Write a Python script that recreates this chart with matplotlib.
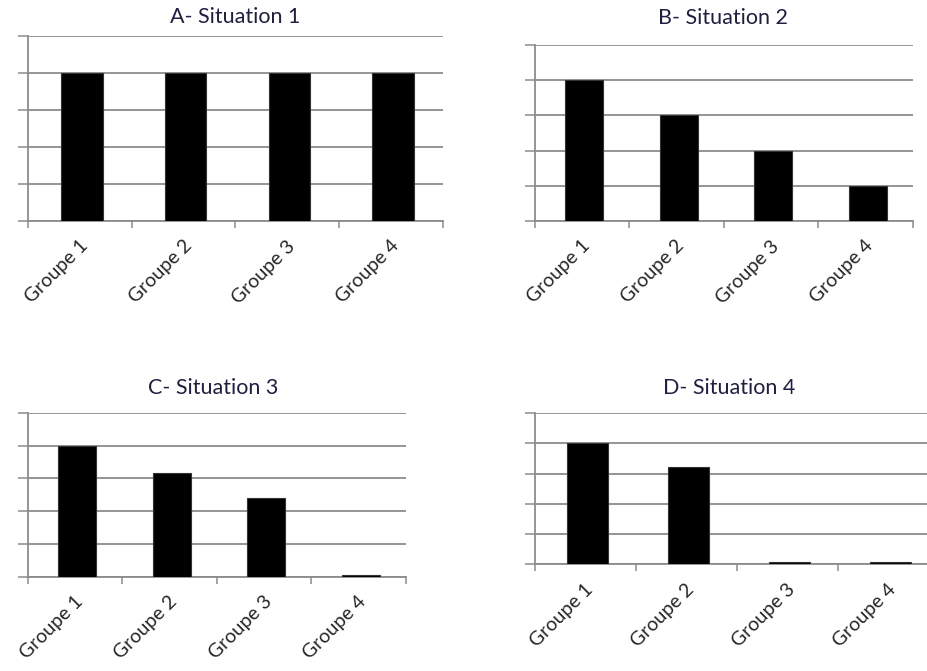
import matplotlib.pyplot as plt
import numpy as np

groupes = ["Groupe 1", "Groupe 2", "Groupe 3", "Groupe 4"]
titres = ["A- Situation 1", "B- Situation 2", "C- Situation 3", "D- Situation 4"]
situation_1 = [4, 4, 4, 4]
situation_2 = [4, 3, 2, 1]
situation_3 = [4, 3.15, 2.4, 0.06]
situation_4 = [4, 3.2, 0.06, 0.06]

plt.rcParams['font.family'] = ['Lato', 'DejaVu Sans']
gris = '#8c8c8c'

fig = plt.figure(figsize=(9.28, 6.71), dpi=100)

# positions des graphiques en pixels (gauche, haut, droite, bas)
cadres = [(28, 36, 443, 221), (535, 45, 913, 221),
          (28, 413, 406, 576.5), (535, 413, 939, 564.3)]
titres_xy = [(235, 17), (723, 18), (213, 388), (729, 388)]
donnees = [situation_1, situation_2, situation_3, situation_4]

W, H = 928, 671
x = np.arange(1, 5)
for (g, h, d, b), (tx, ty), titre, vals in zip(cadres, titres_xy, titres, donnees):
    ax = fig.add_axes([g / W, (H - b) / H, (d - g) / W, (b - h) / H])
    ax.bar(x + 0.02, vals, width=0.4, color='black', edgecolor='#333333', linewidth=0.8, zorder=3)
    ax.set_xlim(0.5, 4.5)
    ax.set_ylim(0, 5)
    ax.set_yticks(range(6))
    ax.set_yticklabels([])
    ax.yaxis.grid(True, color=gris, linewidth=1.3, zorder=0)
    ax.tick_params(axis='y', length=7.5, width=1.1, color=gris)
    ax.set_xticks(np.arange(0.5, 5, 1))
    ax.set_xticklabels([])
    ax.tick_params(axis='x', which='major', length=5, width=1.1, color=gris)
    ax.set_xticks(x + 0.05, groupes, minor=True)
    ax.tick_params(axis='x', which='minor', length=0, pad=16, labelsize=14,
                   labelcolor='#262626')
    for lab in ax.get_xticklabels(minor=True):
        lab.set_rotation(45)
        lab.set_ha('right')
        lab.set_va('center')
        lab.set_rotation_mode('anchor')
    for s in ['top', 'right']:
        ax.spines[s].set_visible(False)
    for s in ['left', 'bottom']:
        ax.spines[s].set_color(gris)
        ax.spines[s].set_linewidth(1.3)
    fig.text(tx / W, 1 - ty / H, titre, ha='center', va='center',
             fontsize=15.5, color='#1f1f3f')

fig.savefig('out.png', dpi=100)
